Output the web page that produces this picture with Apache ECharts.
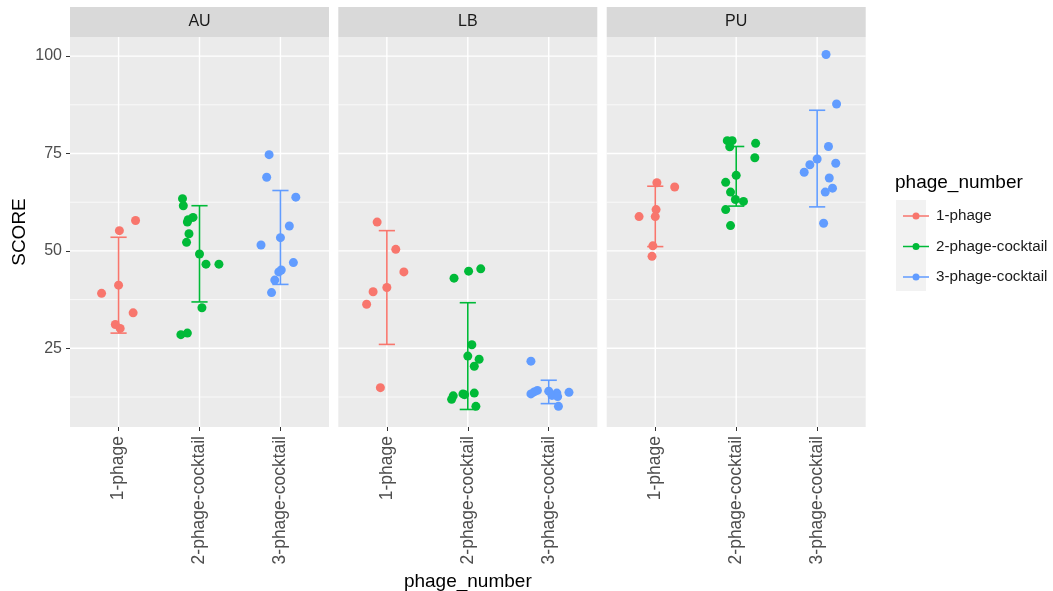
<!DOCTYPE html>
<html><head><meta charset="utf-8">
<script src="https://cdn.jsdelivr.net/npm/echarts@6/dist/echarts.min.js"></script>
<style>html,body{margin:0;padding:0;background:#fff}#c{width:1053px;height:591px}</style>
</head><body><div id="c"></div>
<script>
// ---------- data ----------
const panels = ['AU', 'LB', 'PU'];
const groups = ['1-phage', '2-phage-cocktail', '3-phage-cocktail'];
const yMajorTicks = [25, 50, 75, 100];
const yMinorTicks = [12.5, 37.5, 62.5, 87.5];

const scoreAU1 = [57.8, 55.2, 41.2, 39.1, 34.1, 31.1, 30.1];
const jitAU1   = [0.21, 0.01, 0.0, -0.21, 0.18, -0.04, 0.02];
const scoreAU2 = [63.4, 61.6, 58.6, 58.0, 57.4, 54.4, 52.2, 49.2, 46.6, 46.6, 35.4, 28.5, 28.9];
const jitAU2   = [-0.21, -0.20, -0.08, -0.14, -0.15, -0.13, -0.16, 0.0, 0.08, 0.24, 0.03, -0.23, -0.15];
const scoreAU3 = [74.7, 68.9, 63.8, 56.4, 53.4, 51.5, 47.0, 45.1, 44.6, 42.5, 39.3];
const jitAU3   = [-0.14, -0.17, 0.19, 0.11, 0.0, -0.24, 0.16, 0.01, -0.02, -0.07, -0.11];
const errLowAU  = [28.9, 36.9, 41.4];
const errHighAU = [53.5, 61.6, 65.5];

const scoreLB1 = [57.4, 50.4, 44.6, 40.6, 39.5, 36.3, 14.9];
const jitLB1   = [-0.12, 0.11, 0.21, 0.0, -0.17, -0.25, -0.08];
const scoreLB2 = [45.4, 44.8, 43.0, 25.9, 23.0, 22.2, 20.4, 13.3, 13.1, 13.5, 12.8, 11.9, 10.1];
const jitLB2   = [0.16, 0.01, -0.17, 0.05, 0.0, 0.14, 0.08, -0.06, -0.04, 0.08, -0.18, -0.20, 0.10];
const scoreLB3 = [21.7, 14.2, 13.8, 13.3, 14.0, 13.5, 12.9, 12.6, 13.7, 10.1];
const jitLB3   = [-0.22, -0.14, -0.18, -0.22, 0.0, 0.10, 0.04, 0.11, 0.25, 0.12];
const errLowLB  = [26.0, 9.3, 10.8];
const errHighLB = [55.2, 36.7, 16.8];

const scorePU1 = [67.5, 66.4, 60.6, 58.8, 58.8, 51.3, 48.6];
const jitPU1   = [0.02, 0.24, 0.01, -0.20, 0.0, -0.03, -0.04];
const scorePU2 = [78.3, 78.3, 76.7, 77.6, 73.9, 69.4, 67.6, 65.1, 63.2, 62.7, 60.6, 56.5];
const jitPU2   = [-0.11, -0.05, -0.08, 0.24, 0.23, 0.0, -0.13, -0.07, -0.01, 0.09, -0.13, -0.07];
const scorePU3 = [100.4, 87.7, 76.8, 73.6, 72.1, 72.5, 70.2, 68.7, 66.1, 65.1, 57.1];
const jitPU3   = [0.11, 0.24, 0.14, 0.0, -0.09, 0.23, -0.16, 0.15, 0.19, 0.10, 0.08];
const errLowPU  = [51.1, 61.5, 61.3];
const errHighPU = [66.6, 76.8, 86.1];

// ---------- assembly ----------
const scores = { AU: [scoreAU1, scoreAU2, scoreAU3], LB: [scoreLB1, scoreLB2, scoreLB3], PU: [scorePU1, scorePU2, scorePU3] };
const jitters = { AU: [jitAU1, jitAU2, jitAU3], LB: [jitLB1, jitLB2, jitLB3], PU: [jitPU1, jitPU2, jitPU3] };
const errLow = { AU: errLowAU, LB: errLowLB, PU: errLowPU };
const errHigh = { AU: errHighAU, LB: errHighLB, PU: errHighPU };

const FONT = '"Liberation Sans", Arial, sans-serif';
const colors = ['#F8766D', '#00BA38', '#619CFF'];
const gridLefts = [70, 338.3, 606.7];
const gridW = 259, gridTop = 37, gridH = 390;
const Y_MIN = 4.8, Y_MAX = 104.9;

const grids = [], xAxes = [], yAxes = [], series = [], graphics = [];

panels.forEach((p, i) => {
  grids.push({ left: gridLefts[i], top: gridTop, width: gridW, height: gridH,
    show: true, backgroundColor: '#EBEBEB', borderWidth: 0, containLabel: false, outerBoundsMode: 'none' });

  xAxes.push({
    type: 'value', gridIndex: i, min: 0.4, max: 3.6,
    axisLine: { show: false }, splitLine: { show: false },
    axisTick: { show: true, customValues: [1, 2, 3], length: 4, lineStyle: { color: '#333333', width: 1 } },
    axisLabel: { show: true, customValues: [1, 2, 3], rotate: 90, margin: 9,
      formatter: v => groups[Math.round(v) - 1] || '', fontSize: 17.5, color: '#4D4D4D', fontFamily: FONT },
    name: i === 1 ? 'phage_number' : '', nameLocation: 'middle', nameGap: 143,
    nameTextStyle: { fontSize: 19, color: '#000', fontFamily: FONT }
  });

  yAxes.push({
    type: 'value', gridIndex: i, min: Y_MIN, max: Y_MAX,
    axisLine: { show: false }, splitLine: { show: false },
    axisTick: { show: i === 0, customValues: yMajorTicks, length: 4, lineStyle: { color: '#333333', width: 1 } },
    axisLabel: { show: i === 0, customValues: yMajorTicks, margin: 8, fontSize: 16, color: '#4D4D4D', fontFamily: FONT },
    name: i === 0 ? 'SCORE' : '', nameLocation: 'middle', nameGap: 41,
    nameTextStyle: { fontSize: 19, color: '#000', fontFamily: FONT }
  });

  // gridlines (drawn from tick values through the axes)
  const gl = [];
  yMajorTicks.forEach(v => gl.push([2, v, 1]));
  yMinorTicks.forEach(v => gl.push([2, v, 0]));
  [1, 2, 3].forEach(c => gl.push([c, 50, 2]));
  series.push({
    type: 'custom', xAxisIndex: i, yAxisIndex: i, silent: true, z: 1,
    encode: { x: 0, y: 1 }, data: gl,
    renderItem: (params, api) => {
      const cs = params.coordSys;
      const t = api.value(2);
      const pt = api.coord([api.value(0), api.value(1)]);
      if (t === 2) {
        return { type: 'line', shape: { x1: pt[0], y1: cs.y, x2: pt[0], y2: cs.y + cs.height },
          style: { stroke: '#FFFFFF', lineWidth: 1.4 } };
      }
      return { type: 'line', shape: { x1: cs.x, y1: pt[1], x2: cs.x + cs.width, y2: pt[1] },
        style: { stroke: '#FFFFFF', lineWidth: t === 1 ? 1.4 : 0.7 } };
    }
  });

  groups.forEach((g, k) => {
    // error bars
    series.push({
      type: 'custom', name: g, xAxisIndex: i, yAxisIndex: i, z: 2, silent: true,
      itemStyle: { color: colors[k] },
      encode: { x: 0, y: [1, 2] },
      data: [[k + 1, errLow[p][k], errHigh[p][k]]],
      renderItem: (params, api) => {
        const x = api.value(0), lo = api.value(1), hi = api.value(2);
        const a = api.coord([x, lo]), b = api.coord([x, hi]);
        const l = api.coord([x - 0.1, lo])[0], r = api.coord([x + 0.1, lo])[0];
        const st = { stroke: colors[k], lineWidth: 1.6 };
        return { type: 'group', children: [
          { type: 'line', shape: { x1: a[0], y1: a[1], x2: b[0], y2: b[1] }, style: st },
          { type: 'line', shape: { x1: l, y1: a[1], x2: r, y2: a[1] }, style: st },
          { type: 'line', shape: { x1: l, y1: b[1], x2: r, y2: b[1] }, style: st }
        ] };
      }
    });
    // jittered points
    series.push({
      type: 'scatter', name: g, xAxisIndex: i, yAxisIndex: i, z: 3,
      symbolSize: 9, itemStyle: { color: colors[k], opacity: 1 },
      data: scores[p][k].map((v, j) => [k + 1 + jitters[p][k][j], v])
    });
  });

  // facet strip
  graphics.push({ type: 'rect', left: gridLefts[i], top: 7, z: 0,
    shape: { width: gridW, height: 30 }, style: { fill: '#D9D9D9' } });
  graphics.push({ type: 'text', x: gridLefts[i] + gridW / 2, y: 22, z: 1,
    style: { text: p, fill: '#1A1A1A', font: '16px ' + FONT, textAlign: 'center', textVerticalAlign: 'middle' } });
});

// legend key background and title
graphics.push({ type: 'rect', left: 896, top: 200, z: 0, shape: { width: 30, height: 91 }, style: { fill: '#F2F2F2' } });
graphics.push({ type: 'text', x: 895, y: 183, z: 1,
  style: { text: 'phage_number', fill: '#000', font: '19px ' + FONT, textAlign: 'left', textVerticalAlign: 'middle' } });

const keyIcon = 'path://M0,3.7L26,3.7L26,5.3L0,5.3Z M9.5,4.5A3.5,3.5 0 1 1 16.5,4.5A3.5,3.5 0 1 1 9.5,4.5Z';

const chart = echarts.init(document.getElementById('c'), null, { renderer: 'canvas' });
chart.setOption({
  animation: false,
  backgroundColor: '#FFFFFF',
  textStyle: { fontFamily: FONT },
  grid: grids, xAxis: xAxes, yAxis: yAxes, series: series,
  legend: {
    orient: 'vertical', left: 898, top: 201, z: 10, selectedMode: false,
    itemWidth: 26, itemHeight: 8, itemGap: 10.5,
    data: groups.map((g, k) => ({ name: g, icon: keyIcon, itemStyle: { color: colors[k] } })),
    textStyle: { fontSize: 15.2, color: '#1A1A1A', fontFamily: FONT, lineHeight: 20, padding: [0, 0, 0, 2] }
  },
  graphic: graphics
});
</script></body></html>
